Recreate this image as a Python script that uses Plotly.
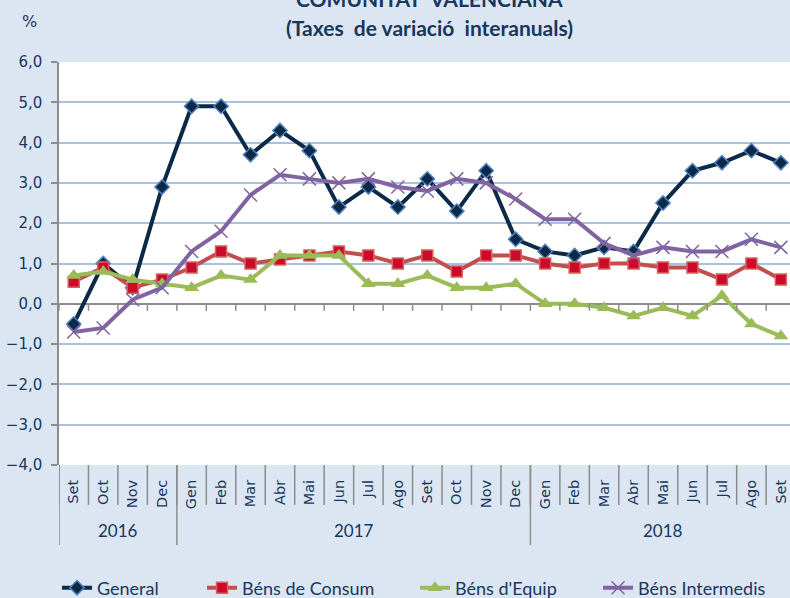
import plotly.graph_objects as go

months = ["Set", "Oct", "Nov", "Dec",
          "Gen", "Feb", "Mar", "Abr", "Mai", "Jun", "Jul", "Ago", "Set", "Oct", "Nov", "Dec",
          "Gen", "Feb", "Mar", "Abr", "Mai", "Jun", "Jul", "Ago", "Set"]
years = ["2016", "2017", "2018"]
year_counts = [4, 12, 9]

general = [-0.5, 1.0, 0.4, 2.9, 4.9, 4.9, 3.7, 4.3, 3.8, 2.4, 2.9, 2.4, 3.1, 2.3, 3.3, 1.6,
           1.3, 1.2, 1.4, 1.3, 2.5, 3.3, 3.5, 3.8, 3.5]
consum = [0.55, 0.9, 0.4, 0.6, 0.9, 1.3, 1.0, 1.1, 1.2, 1.3, 1.2, 1.0, 1.2, 0.8, 1.2, 1.2,
          1.0, 0.9, 1.0, 1.0, 0.9, 0.9, 0.6, 1.0, 0.6]
equip = [0.7, 0.8, 0.6, 0.5, 0.4, 0.7, 0.6, 1.2, 1.2, 1.2, 0.5, 0.5, 0.7, 0.4, 0.4, 0.5,
         0.0, 0.0, -0.1, -0.3, -0.1, -0.3, 0.2, -0.5, -0.8]
intermedis = [-0.7, -0.6, 0.1, 0.4, 1.3, 1.8, 2.7, 3.2, 3.1, 3.0, 3.1, 2.9, 2.8, 3.1, 3.0, 2.6,
              2.1, 2.1, 1.5, 1.2, 1.4, 1.3, 1.3, 1.6, 1.4]

x = list(range(len(months)))
NAVY = "#17375E"
GRAY = "#8C8C8C"
BG = "#DCE6F2"

fig = go.Figure()
fig.add_trace(go.Scatter(x=x, y=general, name="General", mode="lines+markers", legend="legend",
                         line=dict(color="#0C2A48", width=4),
                         marker=dict(symbol="diamond", size=11, color="#0C2A48",
                                     line=dict(color="#4F81BD", width=1.5))))
fig.add_trace(go.Scatter(x=x, y=consum, name="Béns de Consum", mode="lines+markers", legend="legend2",
                         line=dict(color="#C0504D", width=4),
                         marker=dict(symbol="square", size=11, color="#CC0A2C",
                                     line=dict(color="#D9605C", width=1.5))))
fig.add_trace(go.Scatter(x=x, y=equip, name="Béns d'Equip", mode="lines+markers", legend="legend3",
                         line=dict(color="#9BBB59", width=4),
                         marker=dict(symbol="triangle-up", size=13, color="#9BBB59")))
fig.add_trace(go.Scatter(x=x, y=intermedis, name="Béns Intermedis", mode="lines+markers", legend="legend4",
                         line=dict(color="#8064A2", width=4),
                         marker=dict(symbol="x-thin", size=13, color="#8064A2",
                                     line=dict(color="#8064A2", width=1.5))))

shapes = []
for i in range(len(months) + 1):
    shapes.append(dict(type="line", xref="x", yref="y", ysizemode="pixel", yanchor=0,
                       x0=i - 0.5, x1=i - 0.5, y0=0, y1=-7,
                       line=dict(color=GRAY, width=1.5)))
    shapes.append(dict(type="line", xref="x", yref="paper",
                       x0=i - 0.5, x1=i - 0.5, y0=0, y1=-0.099,
                       line=dict(color=GRAY, width=1.5)))
start = 0
annotations = []
for yr, cnt in zip(years, year_counts):
    shapes.append(dict(type="line", xref="x", yref="paper",
                       x0=start - 0.5, x1=start - 0.5, y0=0, y1=-0.1985,
                       line=dict(color=GRAY, width=1.5)))
    annotations.append(dict(x=start + (cnt - 1) / 2, y=-0.163, xref="x", yref="paper",
                            text=yr, showarrow=False, yanchor="middle",
                            font=dict(family="Lato", size=17, color=NAVY)))
    start += cnt

annotations += [
    dict(x=0.5075, y=1.158, xref="paper", yref="paper", text="<b>COMUNITAT  VALENCIANA</b>",
         showarrow=False, xanchor="center", yanchor="middle",
         font=dict(family="Lato", size=21, color=NAVY)),
    dict(x=0.5075, y=1.0844, xref="paper", yref="paper", text="<b>(Taxes  de variació  interanuals)</b>",
         showarrow=False, xanchor="center", yanchor="middle",
         font=dict(family="Lato", size=21, color=NAVY)),
    dict(x=-0.041, y=1.1, xref="paper", yref="paper", text="%",
         showarrow=False, xanchor="center", yanchor="middle",
         font=dict(family="DejaVu Sans", size=16, color=NAVY)),
]

leg_common = dict(orientation="h", yref="container", y=0.0167, yanchor="middle", xanchor="left",
                  font=dict(family="Lato", size=18, color=NAVY), bgcolor="rgba(0,0,0,0)")

fig.update_layout(
    width=790, height=598,
    margin=dict(l=59, r=0, t=62, b=133),
    paper_bgcolor=BG, plot_bgcolor="white",
    separators=", ",
    showlegend=True,
    legend=dict(x=-0.0027, **leg_common),
    legend2=dict(x=0.1957, **leg_common),
    legend3=dict(x=0.4870, **leg_common),
    legend4=dict(x=0.7374, **leg_common),
    xaxis=dict(range=[-0.5, 24.31], tickmode="array", tickvals=x, ticktext=months,
               tickangle=-90, ticks="", showgrid=False, zeroline=False,
               tickfont=dict(family="DejaVu Sans", size=14.5, color=NAVY),
               ticklabelstandoff=11),
    yaxis=dict(range=[-4, 6], dtick=1, tickformat=".1f", showgrid=True,
               gridcolor="#A9C1E0", gridwidth=1.5, showline=True, linecolor=GRAY,
               linewidth=1.5, ticks="outside", ticklen=6, tickcolor=GRAY, tickwidth=1.5,
               zeroline=True, zerolinecolor=GRAY, zerolinewidth=1.5, ticklabelstandoff=6,
               tickfont=dict(family="DejaVu Sans", size=15, color=NAVY)),
    shapes=shapes, annotations=annotations,
)
fig.write_html("out.html", config={"displayModeBar": False},
               post_script="document.body.style.margin='0';document.body.style.background='%s';" % BG)
